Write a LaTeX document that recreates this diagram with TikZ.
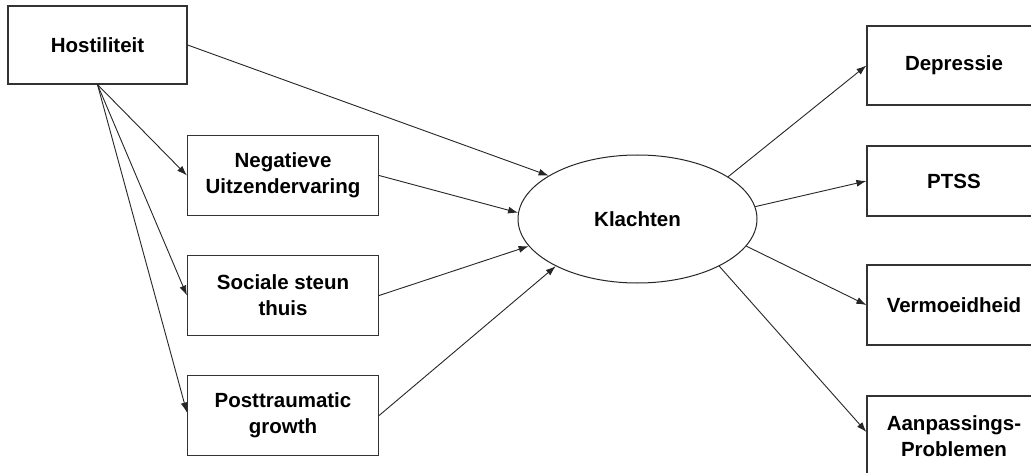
\documentclass[tikz,border=0pt]{standalone}
\usepackage{fontspec}
\setmainfont{Liberation Sans}
\usepackage{tikz}
\usetikzlibrary{shapes,shapes.geometric,arrows.meta,calc,positioning}
\tikzset{var/.style={draw=black!80, line width=1.2pt, rectangle, inner sep=0pt, align=center,
    minimum width=191pt, minimum height=80pt, font=\bfseries\fontsize{20.5}{26}\selectfont},
  outvar/.style={var, minimum width=174pt},
  latent/.style={draw=black!85, line width=1pt, ellipse, inner sep=0pt,
    minimum width=239pt, minimum height=128pt, font=\bfseries\fontsize{20.5}{26}\selectfont}}

\begin{document}
\begin{tikzpicture}[x=1pt, y=-1pt, >={Latex[length=10pt,width=7pt]}, line width=0.9pt, node distance=120pt]
\path[use as bounding box, fill=white] (0,0) rectangle (1031,473);
\clip (0,0) rectangle (1031,473);
% predictoren
\node[var, minimum width=179pt, minimum height=78pt] at (97.5,45) (H){Hostiliteit};
\node[var] at (283,175.5) (N){Negatieve\\Uitzendervaring};
\node[var][below of =N] (S){Sociale steun\\thuis};
\node[var][below of =S] (P){Posttraumatic\\growth};
% latente variabele
\node[latent] at (637.5,219) (K){Klachten};
% uitkomsten
\node[outvar, minimum height=79pt] at (954,65.5) (D){Depressie};
\node[outvar, minimum height=70pt] at (954,181) (T){PTSS};
\node[outvar] at (954,305) (V){Vermoeidheid};
\node[outvar] at (954,436) (A){Aanpassings-\\Problemen};
\path[->,black!85] (H.east) edge (K.154.6)
  (H.south) edge (N.west)
  edge (S.west)
  edge ($(P.west)+(0,-3)$)
  (N.east) edge (K.177.6)
  (S.east) edge (K.194.2)
  (P.east) edge (K.210.5)
  (K.25.9) edge (D.west)
  (K.6.7) edge (T.west)
  (K.346) edge (V.west)
  (K.330) edge ($(A.west)+(0,-4)$);
\end{tikzpicture}
\end{document}
